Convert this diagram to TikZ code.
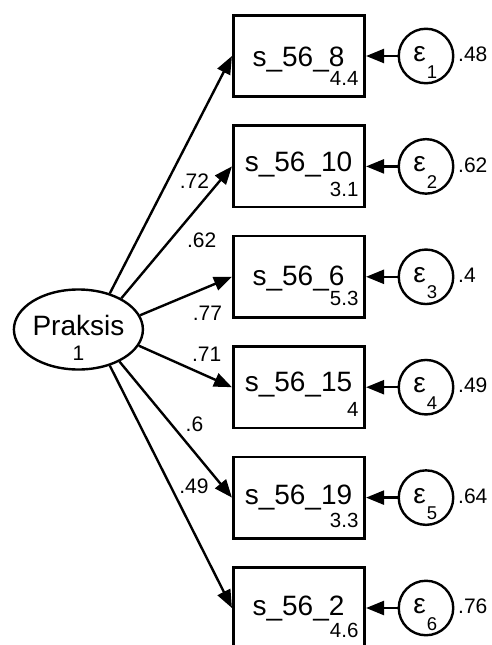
\documentclass[tikz,border=0pt]{standalone}
\usepackage{fontspec}
\setmainfont{Liberation Sans}
\usetikzlibrary{arrows.meta,shapes.geometric}
\begin{document}
\begin{tikzpicture}[x=1pt,y=-1pt,
  obs/.style={draw, line width=2.6pt, rectangle, minimum width=131.5pt, minimum height=81.5pt, inner sep=0pt},
  lat/.style={draw, line width=2.4pt, ellipse, minimum width=129pt, minimum height=80pt, inner sep=0pt},
  err/.style={draw, line width=2.4pt, circle, minimum size=54.5pt, inner sep=0pt},
  pth/.style={line width=2.4pt, -{Triangle[length=18pt,width=14pt]}},
  big/.style={font=\fontsize{28}{32}\selectfont, inner sep=0pt},
  small/.style={font=\fontsize{20.5}{24}\selectfont, inner sep=0pt},
  coef/.style={font=\fontsize{21}{24}\selectfont, inner sep=0pt},
  sub/.style={font=\fontsize{18.5}{22}\selectfont, inner sep=0pt},
]
\useasboundingbox (0,0) rectangle (491,645);

% latent variable
\node[lat] (L) at (78.4,329.5) {};
\node[big, anchor=base] (Lt) at (78.4,335) {Praksis};
\node[coef, anchor=base] (Lv) at (78.4,360.7) {1};

% observed variables, errors
\foreach \i/\y/\lab/\lb/\num/\nb/\ev in {
  1/56/s\_56\_8/66.7/4.4/85/.48,
  2/166.4/s\_56\_10/171.7/3.1/196.7/.62,
  3/276.8/s\_56\_6/285/5.3/305/.4,
  4/387.2/s\_56\_15/391.7/4/416/.49,
  5/497.6/s\_56\_19/504/3.3/527.3/.64,
  6/608/s\_56\_2/615/4.6/637.3/.76}{
  \node[obs] (b\i) at (299,\y) {};
  \node[big, anchor=base] (t\i) at (298.5,\lb) {\lab};
  \node[small, anchor=base east] (m\i) at (358.6,\nb) {\num};
  \node[err] (e\i) at (426,\y) {};
  \node[big, anchor=base] (g\i) at (419.5,\y+5.5) {ε};
  \node[sub, anchor=base] (s\i) at (432,\y+22) {\i};
  \node[coef, anchor=base west] (v\i) at (458,\y+5.7) {\ev};
  \draw[pth] (e\i.west) -- (b\i.east);
}

% loadings
\draw[pth] (L.49) -- (b1.west);
\draw[pth] (L.36) -- (b2.west);
\draw[pth] (L.13) -- (b3.west);
\draw[pth] (L.-15) -- (b4.west);
\draw[pth] (L.-38.6) -- (b5.west);
\draw[pth] (L.-49) -- (b6.west);

\node[coef, anchor=base] (c1) at (194.5,188.3) {.72};
\node[coef, anchor=base] (c2) at (201.7,247.3) {.62};
\node[coef, anchor=base] (c3) at (207.5,320) {.77};
\node[coef, anchor=base] (c4) at (206.7,361.7) {.71};
\node[coef, anchor=base] (c5) at (194.5,431.7) {.6};
\node[coef, anchor=base] (c6) at (194,493.3) {.49};
\end{tikzpicture}
\end{document}
